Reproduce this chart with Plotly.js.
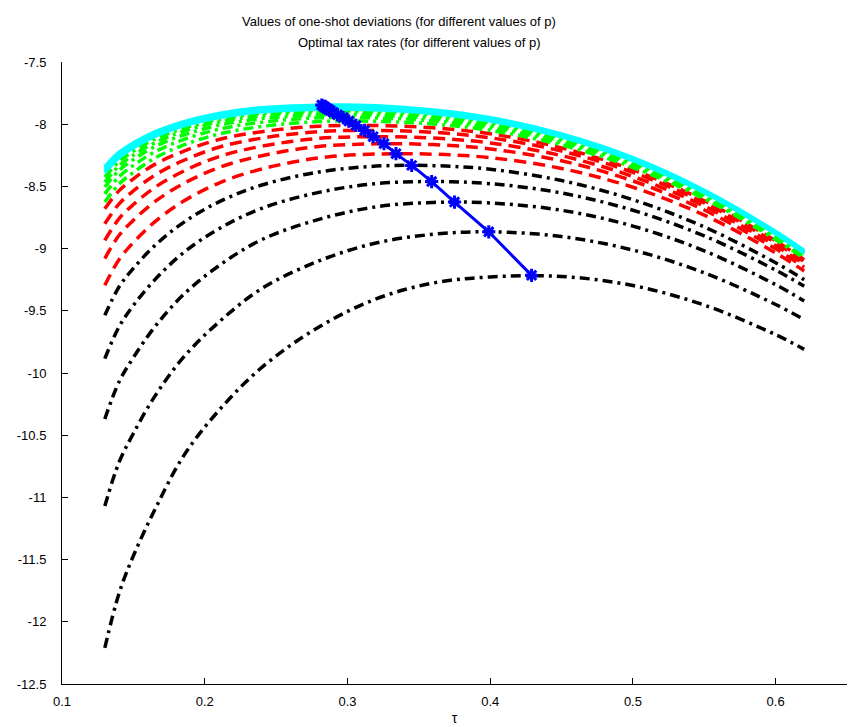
<!DOCTYPE html>
<html>
<head>
<meta charset="utf-8">
<script src="https://cdn.plot.ly/plotly-3.0.1.min.js"></script>
<style>html,body{margin:0;padding:0;background:#fff;}#chart{width:853px;height:727px;}</style>
</head>
<body>
<div id="chart"></div>
<script>
// tau grid on which each curve was read
var tauGrid = [0.13, 0.14, 0.15, 0.165, 0.185, 0.21, 0.24, 0.28, 0.32, 0.36, 0.4, 0.45, 0.5, 0.55, 0.6, 0.62];

// black dash-dot curves (lowest p)
var black1 = [-12.21, -11.77, -11.47, -11.10, -10.67, -10.30, -9.955, -9.63, -9.405, -9.277, -9.228, -9.224, -9.297, -9.454, -9.692, -9.81];
var black2 = [-11.07, -10.717, -10.486, -10.188, -9.875, -9.59, -9.321, -9.099, -8.955, -8.885, -8.865, -8.903, -9.012, -9.195, -9.449, -9.571];
var black3 = [-10.37, -10.07, -9.876, -9.629, -9.371, -9.137, -8.928, -8.765, -8.664, -8.629, -8.633, -8.692, -8.819, -9.018, -9.29, -9.421];
var black4 = [-9.884, -9.628, -9.457, -9.251, -9.034, -8.84, -8.676, -8.548, -8.478, -8.461, -8.478, -8.553, -8.692, -8.898, -9.173, -9.303];
var black5 = [-9.536, -9.307, -9.159, -8.976, -8.791, -8.624, -8.489, -8.384, -8.337, -8.333, -8.362, -8.453, -8.607, -8.826, -9.114, -9.25];

// red dashed curves
var red1 = [-9.295, -9.087, -8.951, -8.785, -8.62, -8.473, -8.36, -8.271, -8.24, -8.241, -8.269, -8.356, -8.507, -8.731, -9.035, -9.18];
var red2 = [-9.08, -8.893, -8.772, -8.623, -8.478, -8.348, -8.253, -8.179, -8.158, -8.164, -8.199, -8.294, -8.456, -8.69, -9.002, -9.15];
var red3 = [-8.934, -8.759, -8.646, -8.509, -8.378, -8.26, -8.177, -8.114, -8.10, -8.111, -8.151, -8.253, -8.42, -8.659, -8.976, -9.125];
var red4 = [-8.80, -8.64, -8.536, -8.41, -8.292, -8.185, -8.112, -8.06, -8.05, -8.065, -8.109, -8.216, -8.388, -8.633, -8.954, -9.105];
var red5 = [-8.68, -8.534, -8.439, -8.323, -8.218, -8.123, -8.06, -8.016, -8.011, -8.029, -8.077, -8.19, -8.367, -8.615, -8.938, -9.09];

// green curves
var green1 = [-8.626, -8.481, -8.388, -8.272, -8.168, -8.079, -8.018, -7.979, -7.977, -7.998, -8.05, -8.167, -8.348, -8.599, -8.928, -9.08];
var green2 = [-8.56, -8.421, -8.331, -8.223, -8.124, -8.04, -7.984, -7.949, -7.95, -7.973, -8.028, -8.148, -8.333, -8.587, -8.916, -9.07];
var green3 = [-8.505, -8.371, -8.284, -8.18, -8.087, -8.008, -7.955, -7.926, -7.928, -7.954, -8.011, -8.134, -8.32, -8.577, -8.906, -9.06];
var green4 = [-8.465, -8.335, -8.249, -8.149, -8.057, -7.982, -7.932, -7.906, -7.91, -7.937, -7.996, -8.122, -8.31, -8.567, -8.896, -9.05];
var green5 = [-8.425, -8.299, -8.217, -8.121, -8.033, -7.962, -7.914, -7.891, -7.895, -7.924, -7.985, -8.112, -8.302, -8.56, -8.891, -9.045];

// cyan solid curves (highest p)
var cyan1 = [-8.39, -8.269, -8.19, -8.098, -8.013, -7.946, -7.90, -7.879, -7.884, -7.914, -7.975, -8.102, -8.293, -8.551, -8.882, -9.035];
var cyan2 = [-8.378, -8.258, -8.18, -8.089, -8.005, -7.938, -7.892, -7.871, -7.876, -7.907, -7.968, -8.096, -8.287, -8.546, -8.877, -9.03];
var cyan3 = [-8.366, -8.247, -8.17, -8.08, -7.997, -7.93, -7.884, -7.863, -7.868, -7.90, -7.961, -8.09, -8.281, -8.541, -8.872, -9.025];
var cyan4 = [-8.354, -8.236, -8.16, -8.071, -7.989, -7.922, -7.876, -7.855, -7.86, -7.893, -7.954, -8.084, -8.275, -8.536, -8.867, -9.02];
var cyan5 = [-8.342, -8.225, -8.15, -8.062, -7.981, -7.914, -7.868, -7.847, -7.852, -7.886, -7.947, -8.078, -8.269, -8.531, -8.862, -9.015];

// optimal tax rates (maxima) and their values
var optTau = [0.429, 0.399, 0.375, 0.359, 0.345, 0.334, 0.3256, 0.318, 0.312, 0.306, 0.301, 0.297, 0.293, 0.29, 0.288, 0.2865, 0.285, 0.284, 0.283, 0.282];
var optVal = [-9.215, -8.865, -8.626, -8.461, -8.331, -8.237, -8.157, -8.10, -8.05, -8.01, -7.975, -7.947, -7.924, -7.905, -7.89, -7.878, -7.87, -7.862, -7.854, -7.846];

// ticks and titles
var xTickVals = [0.1, 0.2, 0.3, 0.4, 0.5, 0.6];
var xTickText = ['0.1', '0.2', '0.3', '0.4', '0.5', '0.6'];
var yTickVals = [-7.5, -8, -8.5, -9, -9.5, -10, -10.5, -11, -11.5, -12, -12.5];
var yTickText = ['-7.5', '-8', '-8.5', '-9', '-9.5', '-10', '-10.5', '-11', '-11.5', '-12', '-12.5'];
var titleLine1 = 'Values of one-shot deviations (for different values of p)';
var titleLine2 = 'Optimal tax rates (for different values of p)';
var xTitle = '\u03c4';

var groups = [
  {series: [black1, black2, black3, black4, black5], color: '#000000', dash: '10px,5px,3px,5px'},
  {series: [red1, red2, red3, red4, red5], color: '#ff0000', dash: '12px,7px'},
  {series: [green1, green2, green3, green4, green5], color: '#00ff00', dash: '10px,5px,3px,5px'},
  {series: [cyan1, cyan2, cyan3, cyan4, cyan5], color: '#00ffff', dash: 'solid'}
];

var traces = [];
groups.forEach(function (g) {
  g.series.forEach(function (ys) {
    traces.push({
      type: 'scatter', mode: 'lines', x: tauGrid, y: ys,
      line: {color: g.color, width: 3.5, dash: g.dash, shape: 'spline', smoothing: 1},
      hoverinfo: 'skip'
    });
  });
});
traces.push({
  type: 'scatter', mode: 'lines+markers', x: optTau, y: optVal,
  line: {color: '#0000ff', width: 3},
  marker: {symbol: 'asterisk-open', size: 11, color: '#0000ff', line: {color: '#0000ff', width: 3}}
});

var font = 'Liberation Sans, Arial, sans-serif';
var layout = {
  width: 853, height: 727,
  margin: {l: 62, r: 6, t: 62, b: 43, pad: 0},
  paper_bgcolor: '#ffffff', plot_bgcolor: '#ffffff',
  showlegend: false,
  font: {family: font, size: 13, color: '#000000'},
  xaxis: {
    range: [0.1, 0.65], tickvals: xTickVals, ticktext: xTickText,
    ticks: 'inside', ticklen: 6, tickwidth: 1, tickcolor: '#000000',
    showline: true, linecolor: '#000000', linewidth: 1,
    showgrid: false, zeroline: false, ticklabelstandoff: 5,
    title: {text: xTitle, font: {family: font, size: 14}, standoff: 5}
  },
  yaxis: {
    range: [-12.5, -7.5], tickvals: yTickVals, ticktext: yTickText,
    ticks: 'inside', ticklen: 6, tickwidth: 1, tickcolor: '#000000',
    showline: true, linecolor: '#000000', linewidth: 1,
    showgrid: false, zeroline: false, ticklabelstandoff: 12
  },
  annotations: [
    {text: titleLine1, xref: 'paper', yref: 'paper', x: 0.4293, y: 1.0648, xanchor: 'center', yanchor: 'middle', showarrow: false, font: {family: font, size: 13}},
    {text: titleLine2, xref: 'paper', yref: 'paper', x: 0.4548, y: 1.031, xanchor: 'center', yanchor: 'middle', showarrow: false, font: {family: font, size: 13}}
  ]
};

Plotly.newPlot('chart', traces, layout, {staticPlot: true, displayModeBar: false});
</script>
</body>
</html>
